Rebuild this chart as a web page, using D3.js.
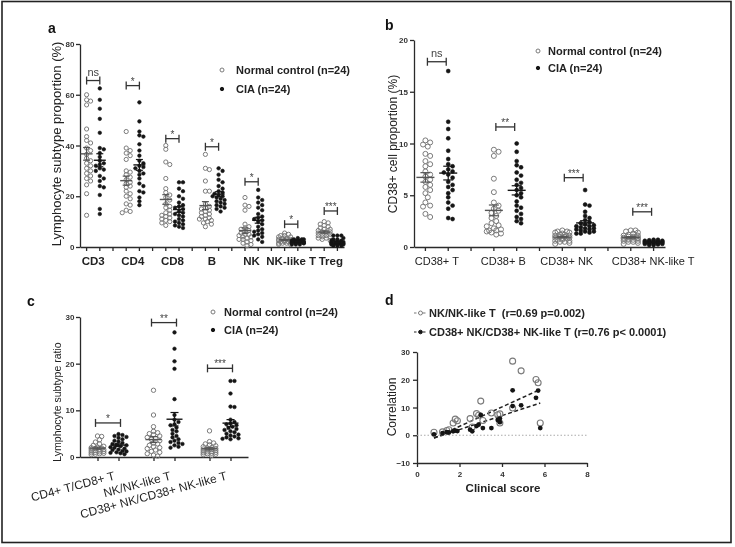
<!DOCTYPE html>
<html><head><meta charset="utf-8">
<script src="https://cdn.jsdelivr.net/npm/d3@7"></script>
<style>
body{margin:0;background:#fff}
svg{display:block;will-change:transform}
text{font-family:"Liberation Sans",Arial,Helvetica,sans-serif}
</style>
</head><body>
<svg id="chart" width="735" height="547"></svg>
<script>
// ---------------- DATA ----------------
// Panel a
const catsA = ["CD3","CD4","CD8","B","NK","NK-like T","Treg"];
const ctrlA = [
  [60,58,57.5,56,46.5,43.5,42,41,39,38,36.5,35,34,33,32,31,30,29,28,27,26,24.5,21,12.5],
  [45.5,39,38,37,36,34.5,30,29.5,28.5,27.5,26.5,25.5,25,24,23.5,22,21,20,19,17,16.5,14.5,14,13.5],
  [40,38.5,33.5,32.5,27,23,21.5,20.5,19.5,18.5,17,16,15.5,14.5,13.5,13,12.5,12,11.5,11,10.5,10,9.5,8.5],
  [36.5,31,30.5,26,22,22,17,16,15.5,15,14.5,14,13.5,13,12.5,12,11.5,11,11,10.5,10,9.5,9,8],
  [19.5,16.5,16,14.5,9,8,7.5,7,6.5,6,5.5,5,5,4.5,4,4,3.5,3,3,2.5,2,1.5,1,0.5],
  [5.5,5,4.5,4.5,4,4,3.5,3.5,3,3,3,2.5,2.5,2.5,2,2,2,1.5,1.5,1.5,1,1,3,2],
  [10,9.5,9,8.5,8,7.5,7,7,6.5,6,6,5.5,5.5,5,5,4.5,4.5,4,4,3.5,3.5,3,2.5,6]
];
const ciaA = [
  [62.5,58,54.5,50.5,45,39,38.5,37,35.5,34,33,32.5,32,31,30.5,30,28,27,26,24,23.5,20.5,15,13],
  [57,49.5,45.5,44,43.5,40.5,38,36,34,33,32,31.5,31,30,29,28.5,27,25,24,22,21.5,19.5,18,16.5],
  [25.5,25.5,23,22,20,19,17.5,16.5,16,15.5,15,14,13.5,13,12.5,12,11,10.5,10,9.5,9,8.5,8,7.5],
  [31,30,28.5,26.5,25.5,24,23,22,21.5,21,20.5,20,20,19.5,19,18.5,18,17.5,17,16.5,16,15.5,15,14],
  [22.5,19.5,18.5,17.5,16.5,15.5,14.5,13,12,11.5,11,10.5,10,9,8,7,6.5,6,5.5,5,4.5,4,3,2],
  [3.5,3,3,3,2.5,2.5,2.5,2.5,2,2,2,2,2,2,1.5,1.5,1.5,1.5,1.5,1,1,1,2,1.5],
  [4.5,4.5,4.5,3.5,3,3,2.5,2.5,2,2,2,1.5,1.5,1.5,1,1,1,1,0.5,0.5,0.5,2,1,1.5]
];
const sigA = ["ns","*","*","*","*","*","***"];
const sigLevelA = [65.6,63.6,42.7,39.5,25.7,9,14.2];
const yTicksA = [0,20,40,60,80];

// Panel b
const catsB = ["CD38+ T","CD38+ B","CD38+ NK","CD38+ NK-like T"];
const ctrlB = [
  [10.3,10.1,9.9,9.7,9,8.8,8.3,8,7.8,7.3,7,6.8,6.5,6.3,6,5.8,5.5,5.2,4.8,4.3,4,3.9,3.2,2.9],
  [9.4,9.2,8.8,6.6,5.3,4.3,4,3.7,3.5,3.3,3,2.8,2.5,2.3,2.1,2,1.8,1.7,1.6,1.5,1.4,1.3,1.2,1.6],
  [1.6,1.5,1.5,1.4,1.4,1.3,1.2,1.2,1.1,1.1,1.0,1.0,0.9,0.9,0.8,0.8,0.7,0.7,0.6,0.6,0.5,0.5,0.4,0.3],
  [1.6,1.6,1.5,1.4,1.3,1.2,1.1,1.1,1.0,1.0,0.9,0.9,0.9,0.8,0.8,0.8,0.7,0.7,0.6,0.6,0.5,0.5,0.4,0.3]
];
const ciaB = [
  [17,12.1,11.4,10.5,9.3,8.5,8,7.8,7.5,7.3,7.2,7,6.7,6.3,5.8,5.5,5.2,4.8,4.3,4,3.7,2.8,2.7,6],
  [10,9.2,8.3,7.9,7.7,7.2,6.9,6.5,6.2,6,5.7,5.5,5.2,5,4.8,4.4,4,3.8,3.5,3.2,2.9,2.5,2.3,2.7],
  [5.5,4.1,4,3.4,3,2.8,2.6,2.4,2.3,2.2,2.1,2,2,1.9,1.8,1.8,1.7,1.7,1.6,1.5,1.5,1.4,1.3,1.3],
  [0.7,0.7,0.65,0.6,0.6,0.6,0.55,0.5,0.5,0.5,0.45,0.45,0.4,0.4,0.4,0.35,0.35,0.3,0.3,0.3,0.25,0.2,0.2,0.5]
];
const sigB = ["ns","**","***","***"];
const sigLevelB = [17.9,11.6,6.7,3.4];
const yTicksB = [0,5,10,15,20];
const labelShiftB = [0,-2,-7,11];

// Panel c
const catsC = ["CD4+ T/CD8+ T","NK/NK-like T","CD38+ NK/CD38+ NK-like T"];
const ctrlC = [
  [4.5,4.4,3.7,3.2,2.8,2.5,2.3,2.1,2,1.9,1.8,1.7,1.6,1.5,1.4,1.3,1.2,1.1,1,0.9,0.8,0.7,0.6,0.5],
  [14.3,9,6.5,5.5,5.2,5,4.8,4.5,4.2,4,3.8,3.5,3,2.8,2.5,2.2,2,1.8,1.5,1.2,1,0.7,0.4,0.2],
  [5.6,3.3,3,2.8,2.6,2.4,2.2,2,1.9,1.8,1.7,1.6,1.5,1.4,1.3,1.2,1.1,1,0.9,0.8,0.7,0.6,0.5,0.3]
];
const ciaC = [
  [4.9,4.7,4.5,4.3,4.1,3.8,3.5,3.3,3,2.8,2.6,2.5,2.3,2.1,2,1.8,1.6,1.5,1.3,1.2,1,0.9,0.8,0.6],
  [26.7,23.2,20.5,18.9,12.4,9,8,7.5,7,6.8,6.3,5.8,5.5,5,4.5,4.2,3.8,3.5,3.2,3,2.8,2.5,2.2,2],
  [16.3,16.3,13.6,10.8,10.7,8,7.5,7.2,7,6.8,6.5,6.2,6,5.8,5.5,5.3,5,4.8,4.6,4.4,4.2,4,3.9,3.8]
];
const sigC = ["*","**","***"];
const sigLevelC = [7.3,28.8,19];
const yTicksC = [0,10,20,30];

// Panel d
const clinicalScore = [0.8,1.2,1.4,1.5,1.7,1.8,1.9,2.5,2.6,2.8,2.9,3.0,3.1,3.5,3.8,3.9,3.9,4.5,4.5,4.9,5.6,5.7,5.8];
const nkRatio      = [1.1,1.2,1.7,2.0,4.4,5.8,5.2,6.0,3.0,7.8,7.2,12.3,5.3,8.0,7.4,7.7,4.4,26.7,9.8,23.2,20.1,18.9,4.4];
const cd38Ratio    = [0.3,0.8,1.1,1.0,1.4,1.7,1.5,2.0,1.4,3.3,3.8,7.3,2.6,2.6,5.5,4.7,6.0,16.2,10.5,10.8,13.5,16.1,2.6];
const fitNK   = [3.5, -3.8];   // slope, intercept
const fitCD38 = [2.52, -3.0];
const legendD = ["NK/NK-like T  (r=0.69 p=0.002)", "CD38+ NK/CD38+ NK-like T (r=0.76 p< 0.0001)"];
const xTicksD = [0,2,4,6,8];
const yTicksD = [-10,0,10,20,30];
const legendGroups = ["Normal control (n=24)","CIA (n=24)"];

// ---------------- DRAWING ----------------
const svg = d3.select("#chart");
const GRAY = "#7a7a7a", BLACK = "#151515", AX = "#2a2a2a";

svg.append("rect").attr("x",2).attr("y",1.5).attr("width",729).attr("height",541)
  .attr("fill","none").attr("stroke","#222").attr("stroke-width",1.6);

function styleAxis(g){
  g.selectAll("path,line").attr("stroke",AX).attr("stroke-width",1.3);
  g.selectAll("text").attr("font-size",8).attr("font-weight","bold").attr("fill","#333")
   .attr("font-family","Liberation Sans, Arial, sans-serif");
}

function swarm(vals, cx, y, r, maxOff){
  const pts = vals.map(v=>({v, py:y(v)})).sort((a,b)=>a.py-b.py);
  const placed = [];
  const step = r*0.95, minD = r*1.75;
  pts.forEach(p=>{
    let chosen = null, bestOv = 1e9, bestOff = 0;
    for(let k=0;k<30;k++){
      const off = (k===0?0:(k%2?1:-1)*Math.ceil(k/2))*step;
      if(Math.abs(off)>maxOff) continue;
      let ov = 0;
      placed.forEach(q=>{ const d = Math.hypot(q.px-(cx+off), q.py-p.py); if(d<minD) ov += (minD-d); });
      if(ov===0){ chosen = off; break; }
      if(ov<bestOv){bestOv=ov;bestOff=off;}
    }
    p.px = cx + (chosen===null?bestOff:chosen);
    placed.push(p);
  });
  return placed;
}

function drawColumn(g, vals, cx, y, open, r, maxOff, mw, sw){
  const pts = swarm(vals, cx, y, r, maxOff);
  g.selectAll(null).data(pts).enter().append("circle")
    .attr("cx",d=>d.px).attr("cy",d=>d.py).attr("r",open?r:r*0.85)
    .attr("fill",open?"none":BLACK).attr("stroke",open?GRAY:BLACK).attr("stroke-width",open?1:0.6);
  const m = d3.mean(vals), se = d3.deviation(vals)/Math.sqrt(vals.length);
  const col = open?"#555":BLACK;
  g.append("line").attr("x1",cx-mw).attr("x2",cx+mw).attr("y1",y(m)).attr("y2",y(m)).attr("stroke",col).attr("stroke-width",1.4);
  g.append("line").attr("x1",cx).attr("x2",cx).attr("y1",y(m-se)).attr("y2",y(m+se)).attr("stroke",col).attr("stroke-width",1.2);
  [m-se,m+se].forEach(v=>g.append("line").attr("x1",cx-sw).attr("x2",cx+sw).attr("y1",y(v)).attr("y2",y(v)).attr("stroke",col).attr("stroke-width",1.2));
}

function bracket(g, x1, x2, yv, label){
  g.append("line").attr("x1",x1).attr("x2",x2).attr("y1",yv).attr("y2",yv).attr("stroke","#333").attr("stroke-width",1.3);
  [x1,x2].forEach(x=>g.append("line").attr("x1",x).attr("x2",x).attr("y1",yv-4).attr("y2",yv+4).attr("stroke","#333").attr("stroke-width",1.3));
  const ns = label==="ns";
  g.append("text").attr("x",(x1+x2)/2).attr("y", ns? yv-5 : yv-1).attr("text-anchor","middle")
    .attr("font-size", ns?11:10).attr("fill","#444").text(label);
}

function legend(g, x, y0, dy, gap){
  legendGroups.forEach((t,i)=>{
    const yy = y0 + i*dy;
    g.append("circle").attr("cx",x).attr("cy",yy).attr("r",i===0?2:1.7)
      .attr("fill",i===0?"none":BLACK).attr("stroke",i===0?GRAY:BLACK).attr("stroke-width",1);
    g.append("text").attr("x",x+gap).attr("y",yy).attr("dy","0.36em").attr("font-size",11)
      .attr("font-weight","bold").attr("fill","#222").text(t);
  });
}

function panelLabel(x,y,t){
  svg.append("text").attr("x",x).attr("y",y).attr("font-size",14).attr("font-weight","bold").attr("fill","#111").text(t);
}
function yLabel(x,y,t,size,weight){
  svg.append("text").attr("transform",`translate(${x},${y}) rotate(-90)`).attr("text-anchor","middle")
    .attr("dy","0.35em").attr("font-size",size).attr("font-weight",weight||"normal").attr("fill","#222").text(t);
}

// ---- Panel a ----
(function(){
  const g = svg.append("g");
  const y = d3.scaleLinear().domain([0,80]).range([247,44]);
  const slots = d3.range(catsA.length*3-1);
  const x = d3.scaleBand().domain(slots).range([80,344]);
  const cx = (gi,s)=> x(gi*3+s)+x.bandwidth()/2;
  styleAxis(g.append("g").attr("transform","translate(80,0)").call(d3.axisLeft(y).tickValues(yTicksA).tickSize(4).tickSizeOuter(0).tickPadding(1.5)));
  styleAxis(g.append("g").attr("transform","translate(0,247)").call(d3.axisBottom(x).tickSize(4).tickSizeOuter(0).tickFormat("")));
  catsA.forEach((c,i)=>{
    drawColumn(g, ctrlA[i], cx(i,0), y, true, 2.1, 6, 6, 3.5);
    drawColumn(g, ciaA[i], cx(i,1), y, false, 2.1, 6, 6, 3.5);
    bracket(g, cx(i,0), cx(i,1), y(sigLevelA[i]), sigA[i]);
    g.append("text").attr("x",(cx(i,0)+cx(i,1))/2).attr("y",265).attr("text-anchor","middle")
      .attr("font-size",11.5).attr("font-weight","bold").attr("fill","#222").text(c);
  });
  legend(g, 222, 70, 19, 14);
  panelLabel(48,33,"a");
  yLabel(56,144,"Lymphocyte subtype proportion (%)",13);
})();

// ---- Panel b ----
(function(){
  const g = svg.append("g");
  const y = d3.scaleLinear().domain([0,20]).range([247,40]);
  const slots = d3.range(catsB.length*3-1);
  const x = d3.scaleBand().domain(slots).range([414,665]);
  const cx = (gi,s)=> x(gi*3+s)+x.bandwidth()/2;
  styleAxis(g.append("g").attr("transform","translate(414,0)").call(d3.axisLeft(y).tickValues(yTicksB).tickSize(4).tickSizeOuter(0).tickPadding(2)));
  styleAxis(g.append("g").attr("transform","translate(0,247)").call(d3.axisBottom(x).tickSize(4).tickSizeOuter(0).tickFormat("")));
  catsB.forEach((c,i)=>{
    drawColumn(g, ctrlB[i], cx(i,0), y, true, 2.5, 9, 9, 5);
    drawColumn(g, ciaB[i], cx(i,1), y, false, 2.3, 9, 9, 5);
    bracket(g, cx(i,0)+2, cx(i,1)-2, y(sigLevelB[i]), sigB[i]);
    g.append("text").attr("x",(cx(i,0)+cx(i,1))/2+labelShiftB[i]).attr("y",265).attr("text-anchor","middle")
      .attr("font-size",11).attr("fill","#222").text(c);
  });
  legend(g, 538, 51, 17, 10);
  panelLabel(385,30,"b");
  yLabel(393,144,"CD38+ cell proportion (%)",12);
})();

// ---- Panel c ----
(function(){
  const g = svg.append("g");
  const y = d3.scaleLinear().domain([0,30]).range([457,317]);
  const x = d3.scaleBand().domain(catsC).range([80,248]);
  const cx = (gi,s)=> x(catsC[gi])+x.bandwidth()/2 + (s?10.5:-10.5);
  styleAxis(g.append("g").attr("transform","translate(80,0)").call(d3.axisLeft(y).tickValues(yTicksC).tickSize(4).tickSizeOuter(0).tickPadding(1.5)));
  const tickPos = catsC.flatMap((c,i)=>[cx(i,0),cx(i,1)]);
  const xl = d3.scaleLinear().domain([80,248]).range([80,248]);
  styleAxis(g.append("g").attr("transform","translate(0,457)").call(d3.axisBottom(xl).tickValues(tickPos).tickSize(4).tickSizeOuter(0).tickFormat("")));
  catsC.forEach((c,i)=>{
    drawColumn(g, ctrlC[i], cx(i,0), y, true, 2.2, 8, 8, 4);
    drawColumn(g, ciaC[i], cx(i,1), y, false, 2.1, 8, 8, 4);
    bracket(g, cx(i,0)-2, cx(i,1)+2, y(sigLevelC[i]), sigC[i]);
    g.append("text").attr("transform",`translate(${x(c)+x.bandwidth()/2+5},${470}) rotate(-15)`)
      .attr("text-anchor","end").attr("dy","0.8em").attr("font-size",12).attr("fill","#222").text(c);
  });
  legend(g, 213, 312, 18, 11);
  panelLabel(27,306,"c");
  yLabel(57,402,"Lymphocyte subtype ratio",10.5);
})();

// ---- Panel d ----
(function(){
  const g = svg.append("g");
  const x = d3.scaleLinear().domain([0,8]).range([417,587]);
  const y = d3.scaleLinear().domain([-10,30]).range([463,352]);
  styleAxis(g.append("g").attr("transform","translate(417,0)").call(d3.axisLeft(y).tickValues(yTicksD).tickSize(4).tickSizeOuter(0).tickPadding(3)));
  styleAxis(g.append("g").attr("transform","translate(0,463)").call(d3.axisBottom(x).tickValues(xTicksD).tickSize(4).tickSizeOuter(0).tickPadding(4)));
  g.append("line").attr("x1",x(0)).attr("x2",x(8)).attr("y1",y(0)).attr("y2",y(0))
    .attr("stroke","#aaa").attr("stroke-width",1).attr("stroke-dasharray","1.5,2");
  const xmin = d3.min(clinicalScore), xmax = d3.max(clinicalScore);
  [fitNK, fitCD38].forEach(f=>{
    g.append("line").attr("x1",x(xmin)).attr("x2",x(xmax)).attr("y1",y(f[0]*xmin+f[1])).attr("y2",y(f[0]*xmax+f[1]))
      .attr("stroke","#222").attr("stroke-width",1.5).attr("stroke-dasharray","4,2.5");
  });
  g.selectAll(null).data(clinicalScore.map((c,i)=>[c,nkRatio[i]])).enter().append("circle")
    .attr("cx",d=>x(d[0])).attr("cy",d=>y(d[1])).attr("r",3).attr("fill","none").attr("stroke",GRAY).attr("stroke-width",1.1);
  g.selectAll(null).data(clinicalScore.map((c,i)=>[c,cd38Ratio[i]])).enter().append("circle")
    .attr("cx",d=>x(d[0])).attr("cy",d=>y(d[1])).attr("r",2.4).attr("fill",BLACK);
  legendD.forEach((t,i)=>{
    const yy = [313,332][i];
    g.append("line").attr("x1",414).attr("x2",427).attr("y1",yy).attr("y2",yy)
      .attr("stroke",i?"#222":"#777").attr("stroke-width",1.2).attr("stroke-dasharray","2.5,2");
    g.append("circle").attr("cx",420.5).attr("cy",yy).attr("r",i?1.8:2)
      .attr("fill",i?BLACK:"#fff").attr("stroke",i?BLACK:GRAY).attr("stroke-width",1);
    g.append("text").attr("x",429).attr("y",yy).attr("dy","0.36em").attr("font-size",11).attr("font-weight","bold")
      .attr("fill","#222").attr("xml:space","preserve").style("white-space","pre").text(t);
  });
  g.append("text").attr("x",503).attr("y",492).attr("text-anchor","middle").attr("font-size",11.5)
    .attr("font-weight","bold").attr("fill","#222").text("Clinical score");
  panelLabel(385,305,"d");
  yLabel(392,407,"Correlation",12);
})();
</script>
</body></html>
